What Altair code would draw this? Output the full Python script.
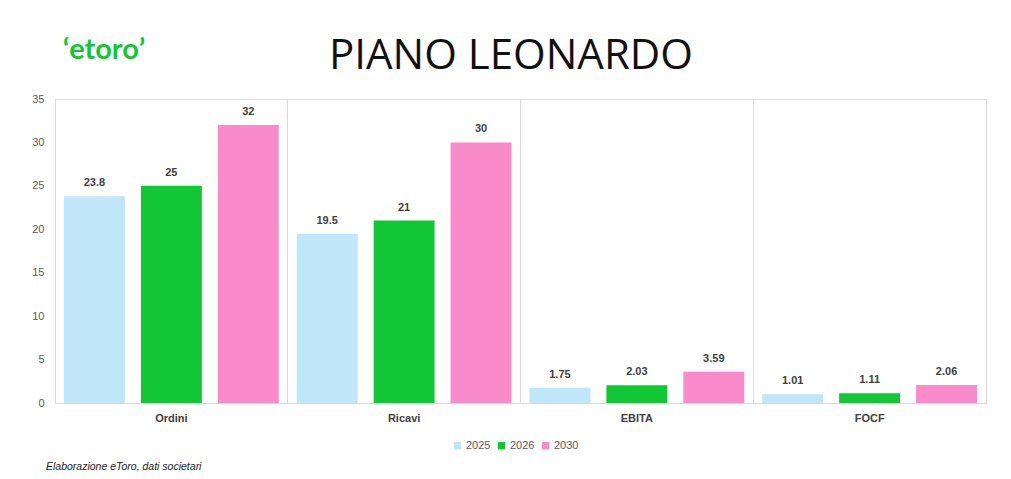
import altair as alt
import pandas as pd

# Leonardo industrial plan targets (EUR bn)
categories = ["Ordini", "Ricavi", "EBITA", "FOCF"]
years = ["2025", "2026", "2030"]
values_2025 = [23.8, 19.5, 1.75, 1.01]
values_2026 = [25, 21, 2.03, 1.11]
values_2030 = [32, 30, 3.59, 2.06]
colors = ["#c0e6fa", "#13c636", "#f98bcb"]

rows = []
for year, series in zip(years, [values_2025, values_2026, values_2030]):
    for cat, v in zip(categories, series):
        rows.append({"categoria": cat, "anno": year, "valore": v})
df = pd.DataFrame(rows)

W, H = 931, 304
FONT = "Liberation Sans"
GREY = "#d9d9d9"

x_enc = alt.X(
    "categoria:N",
    sort=categories,
    scale=alt.Scale(paddingInner=0, paddingOuter=0),
    axis=alt.Axis(
        title=None, ticks=False, labelAngle=0, labelPadding=9,
        labelFontSize=11, labelFontWeight="bold", labelColor="#404040",
        labelFont=FONT, domainColor=GREY, grid=True, gridColor=GREY,
        bandPosition=0,
    ),
)
xoff = alt.XOffset("anno:N", sort=years,
                   scale=alt.Scale(paddingInner=0.208, paddingOuter=0.117))
y_left = alt.Y(
    "valore:Q",
    scale=alt.Scale(domain=[0, 35]),
    axis=alt.Axis(
        title=None, values=[0, 5, 10, 15, 20, 25, 30, 35], ticks=False,
        grid=False, labelPadding=11, labelFontSize=11, labelColor="#595959",
        labelFont=FONT, domainColor=GREY,
    ),
)
# same scale, drawn only as the right-hand border line
y_right = alt.Y(
    "valore:Q",
    scale=alt.Scale(domain=[0, 35]),
    axis=alt.Axis(orient="right", title=None, labels=False, ticks=False,
                  grid=False, domainColor=GREY),
)
color_enc = alt.Color(
    "anno:N", sort=years,
    scale=alt.Scale(domain=years, range=colors),
    legend=alt.Legend(
        title=None, orient="none", direction="horizontal",
        legendX=397, legendY=341, symbolType="square", symbolSize=55,
        symbolStrokeWidth=0, labelFontSize=11, labelColor="#595959",
        labelFont=FONT, columnPadding=5, labelOffset=3,
    ),
)

base = alt.Chart(df)

bars = base.mark_bar().encode(x=x_enc, xOffset=xoff, y=y_left, color=color_enc)

labels = base.mark_text(
    dy=-8, baseline="bottom", fontSize=11, fontWeight="bold",
    color="#404040", font=FONT,
).encode(x=alt.X("categoria:N", sort=categories), xOffset=xoff,
         y=y_right, text="valore:Q")

title_df = pd.DataFrame({"t": ["PIANO LEONARDO"]})
title = alt.Chart(title_df).mark_text(
    fontSize=42, font="Open Sans", color="#111111", baseline="alphabetic",
    align="center",
).encode(x=alt.value(456), y=alt.value(-30), text="t:N")

logo_df = pd.DataFrame({"t": ["ʻetoroʼ"]})
logo = alt.Chart(logo_df).mark_text(
    fontSize=29, font="Lato", fontWeight="bold", color="#13c636",
    baseline="alphabetic", align="center",
).encode(x=alt.value(49), y=alt.value(-40), text="t:N")

note_df = pd.DataFrame({"t": ["Elaborazione eToro, dati societari"]})
note = alt.Chart(note_df).mark_text(
    fontSize=10.5, font=FONT, fontStyle="italic", color="#222222",
    baseline="alphabetic", align="left",
).encode(x=alt.value(-9), y=alt.value(371), text="t:N")

chart = (
    alt.layer(bars, labels, title, logo, note)
    .resolve_scale(y="independent")
    .properties(
        width=W, height=H,
        autosize=alt.AutoSizeParams(type="none"),
        padding={"left": 55, "top": 99, "right": 25, "bottom": 76},
    )
    .configure_view(stroke=None)
    .configure(background="white")
)

chart.save("out.html", embed_options={"renderer": "svg", "actions": False})
